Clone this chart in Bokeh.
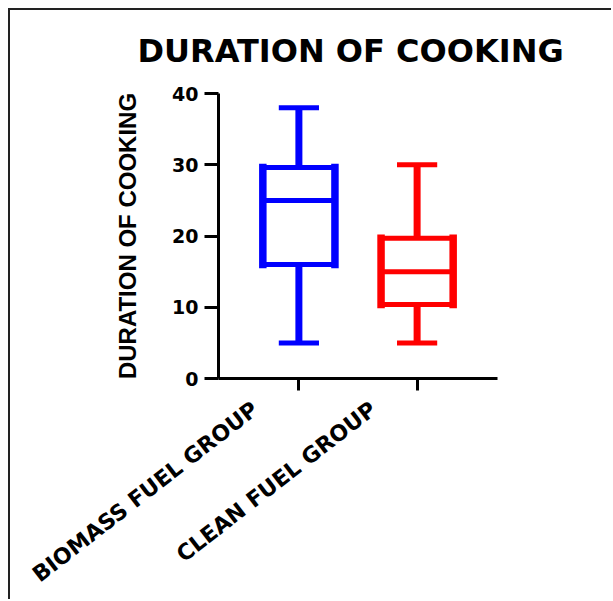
from bokeh.plotting import figure
from bokeh.models import Range1d, FixedTicker, CustomJSTickFormatter
from bokeh.embed import file_html
from bokeh.resources import INLINE

# ---- data ----
categories = ["BIOMASS FUEL GROUP", "CLEAN FUEL GROUP"]
mins = [5, 5]
q1s = [16, 10.4]
medians = [25, 15]
q3s = [29.6, 19.7]
maxs = [38, 30]
colors = ["#0000ff", "#ff0000"]
y_ticks = [0, 10, 20, 30, 40]

xs = [i + 0.5 for i in range(len(categories))]
box_half = 0.305
cap_half = 0.17
label_shift = 0.37

p = figure(width=603, height=591, output_backend="svg", toolbar_location=None,
           x_range=Range1d(-0.18, 2.18), y_range=Range1d(0, 40),
           min_border_left=208, min_border_top=83, min_border_right=116, min_border_bottom=223)
p.styles = {"border-left": "2px solid #222222", "border-top": "2px solid #222222",
            "margin-left": "8px", "margin-top": "8px"}
p.outline_line_color = None
p.xgrid.visible = False
p.ygrid.visible = False
p.background_fill_color = "white"
p.border_fill_color = "white"

p.title.text = "DURATION OF COOKING"
p.title.text_font = "DejaVu Sans"
p.title.text_font_style = "bold"
p.title.text_font_size = "32px"
p.title.text_color = "black"
p.title.align = "left"
p.title.offset = -81
p.title.vertical_align = "top"
p.title.standoff = 43

for i, c in enumerate(colors):
    x = xs[i]
    # whiskers
    p.segment(x0=[x, x], y0=[mins[i], q3s[i]], x1=[x, x], y1=[q1s[i], maxs[i]],
              line_color=c, line_width=7, line_cap="butt")
    # caps
    p.segment(x0=[x - cap_half, x - cap_half], y0=[mins[i], maxs[i]],
              x1=[x + cap_half, x + cap_half], y1=[mins[i], maxs[i]],
              line_color=c, line_width=5, line_cap="butt")
    # box
    p.quad(left=[x - box_half], right=[x + box_half], bottom=[q1s[i]], top=[q3s[i]],
           fill_color="white", line_color=c, line_width=5, line_join="miter")
    p.segment(x0=[x - box_half, x + box_half], y0=[q1s[i], q1s[i]],
              x1=[x - box_half, x + box_half], y1=[q3s[i], q3s[i]],
              line_color=c, line_width=7.5, line_cap="square")
    # median
    p.segment(x0=[x - box_half], y0=[medians[i]], x1=[x + box_half], y1=[medians[i]],
              line_color=c, line_width=5, line_cap="butt")

# x axis
xa = p.xaxis[0]
xa.ticker = FixedTicker(ticks=[x - label_shift for x in xs], minor_ticks=xs)
xa.formatter = CustomJSTickFormatter(args=dict(labels=categories), code="return labels[index];")
xa.axis_line_width = 3
xa.axis_line_color = "black"
xa.major_tick_line_color = None
xa.major_tick_out = 12
xa.major_tick_in = 0
xa.minor_tick_line_color = "black"
xa.minor_tick_line_width = 3
xa.minor_tick_out = 12
xa.minor_tick_in = 0
xa.major_label_orientation = 0.66
xa.major_label_text_font = "DejaVu Sans"
xa.major_label_text_font_style = "bold"
xa.major_label_text_font_size = "22px"
xa.major_label_text_color = "black"
xa.major_label_standoff = 16

# y axis
ya = p.yaxis[0]
ya.ticker = FixedTicker(ticks=y_ticks, minor_ticks=[])
ya.axis_line_width = 3
ya.axis_line_color = "black"
ya.major_tick_line_width = 3
ya.major_tick_line_color = "black"
ya.major_tick_out = 14
ya.major_tick_in = 0
ya.minor_tick_line_color = None
ya.major_label_text_font = "DejaVu Sans"
ya.major_label_text_font_style = "bold"
ya.major_label_text_font_size = "19px"
ya.major_label_text_color = "black"
ya.major_label_standoff = 6
ya.axis_label = "DURATION OF COOKING"
ya.axis_label_text_font = "Liberation Sans"
ya.axis_label_text_font_style = "bold"
ya.axis_label_text_font_size = "24px"
ya.axis_label_text_color = "black"
ya.axis_label_standoff = 28

open("out.html", "w").write(file_html(p, INLINE))
